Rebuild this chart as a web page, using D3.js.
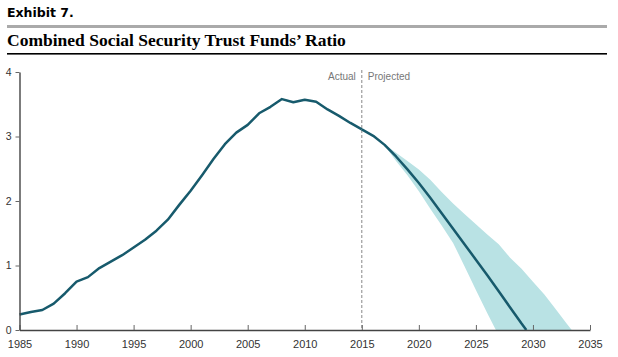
<!DOCTYPE html>
<html><head><meta charset="utf-8">
<script src="https://cdn.jsdelivr.net/npm/d3@7"></script>
<style>body{margin:0;background:#fff}svg{display:block}</style>
</head><body>
<svg id="c" width="618" height="357"></svg>
<script>
const actualYears = [1985,1986,1987,1988,1989,1990,1991,1992,1993,1994,1995,1996,1997,1998,1999,2000,2001,2002,2003,2004,2005,2006,2007,2008,2009,2010,2011,2012,2013,2014,2015];
const actualValues = [0.24,0.28,0.31,0.41,0.57,0.75,0.82,0.96,1.06,1.16,1.28,1.40,1.54,1.71,1.94,2.16,2.40,2.65,2.88,3.06,3.18,3.36,3.46,3.58,3.53,3.57,3.54,3.42,3.32,3.21,3.11];
const projYears = [2015,2016,2017,2018,2019,2020,2021,2022,2023,2024,2025,2026,2027,2028,2029,2029.42];
const projValues = [3.11,3.01,2.87,2.69,2.49,2.28,2.05,1.81,1.57,1.33,1.09,0.85,0.60,0.35,0.10,0];
const upperYears = [2017,2018,2019,2020,2021,2022,2023,2024,2025,2026,2027,2028,2029,2030,2031,2032,2033,2033.4];
const upperValues = [2.88,2.75,2.62,2.49,2.33,2.14,1.96,1.80,1.64,1.48,1.33,1.12,0.95,0.75,0.55,0.32,0.09,0];
const lowerYears = [2017,2018,2019,2020,2021,2022,2023,2024,2025,2026,2026.75];
const lowerValues = [2.86,2.62,2.40,2.15,1.88,1.62,1.35,0.99,0.62,0.26,0];
const xTicks = [1985,1990,1995,2000,2005,2010,2015,2020,2025,2030,2035];
const yTicks = [0,1,2,3,4];
const dividerYear = 2015;

const svg = d3.select("#c");
const x = d3.scaleLinear().domain([1985,2035]).range([19.5,590]);
const y = d3.scaleLinear().domain([0,4]).range([330,72]);

// header
svg.append("text").attr("x",7).attr("y",17).attr("font-family","'DejaVu Sans', sans-serif").attr("font-weight","900").attr("font-size",12.5).attr("fill","#000").text("Exhibit 7.");
svg.append("rect").attr("x",7).attr("y",25).attr("width",600).attr("height",3).attr("fill","#aaa");
svg.append("text").attr("x",7).attr("y",46).attr("font-family","'Liberation Serif', serif").attr("font-weight","bold").attr("font-size",17.5).attr("fill","#000").text("Combined Social Security Trust Funds\u2019 Ratio");
svg.append("rect").attr("x",7).attr("y",53).attr("width",600).attr("height",1.6).attr("fill","#000");

// band
const band = upperYears.map((yr,i)=>({yr,v:upperValues[i]}));
const low = lowerYears.map((yr,i)=>({yr,v:lowerValues[i]})).reverse();
const poly = band.concat(low);
svg.append("path").attr("d", d3.line().x(d=>x(d.yr)).y(d=>y(d.v))(poly)+"Z").attr("fill","#b9e2e4");

// divider
svg.append("line").attr("x1",x(dividerYear)).attr("x2",x(dividerYear)).attr("y1",70).attr("y2",330)
  .attr("stroke","#888").attr("stroke-width",1).attr("stroke-dasharray","3,2");
svg.append("text").attr("x",x(dividerYear)-6).attr("y",80).attr("text-anchor","end").attr("font-family","'Liberation Sans Narrow','Liberation Sans',sans-serif").attr("font-size",10).attr("fill","#777").text("Actual");
svg.append("text").attr("x",x(dividerYear)+6).attr("y",80).attr("text-anchor","start").attr("font-family","'Liberation Sans Narrow','Liberation Sans',sans-serif").attr("font-size",10).attr("fill","#777").text("Projected");

// lines
const line = d3.line().x(d=>x(d[0])).y(d=>y(d[1]));
svg.append("path").attr("d", line(actualYears.map((yr,i)=>[yr,actualValues[i]]))).attr("fill","none").attr("stroke","#175a6c").attr("stroke-width",2.5).attr("stroke-linejoin","round");
svg.append("path").attr("d", line(projYears.map((yr,i)=>[yr,projValues[i]]))).attr("fill","none").attr("stroke","#175a6c").attr("stroke-width",2.5).attr("stroke-linejoin","round");

// axes
const fontAx = "'Liberation Sans Narrow','Liberation Sans',sans-serif";
const xa = svg.append("g").attr("transform","translate(0,330)").call(d3.axisTop(x).tickValues(xTicks).tickFormat(d3.format("d")).tickSize(5).tickSizeOuter(0));
xa.select(".domain").attr("stroke","#444").attr("stroke-width",1.4);
xa.selectAll(".tick line").attr("stroke","#666");
xa.selectAll(".tick text").attr("y",18).attr("dy",0).attr("font-family",fontAx).attr("font-size",11).attr("fill","#333");
const ya = svg.append("g").attr("transform","translate(19.5,0)").call(d3.axisLeft(y).tickValues(yTicks).tickFormat(d3.format("d")).tickSize(4).tickSizeOuter(0));
ya.select(".domain").attr("stroke","#444").attr("stroke-width",1.4);
ya.selectAll(".tick line").attr("stroke","#666");
ya.selectAll(".tick text").attr("x",-8).attr("dy","0.3em").attr("font-family",fontAx).attr("font-size",10.5).attr("fill","#333");
</script>
</body></html>
